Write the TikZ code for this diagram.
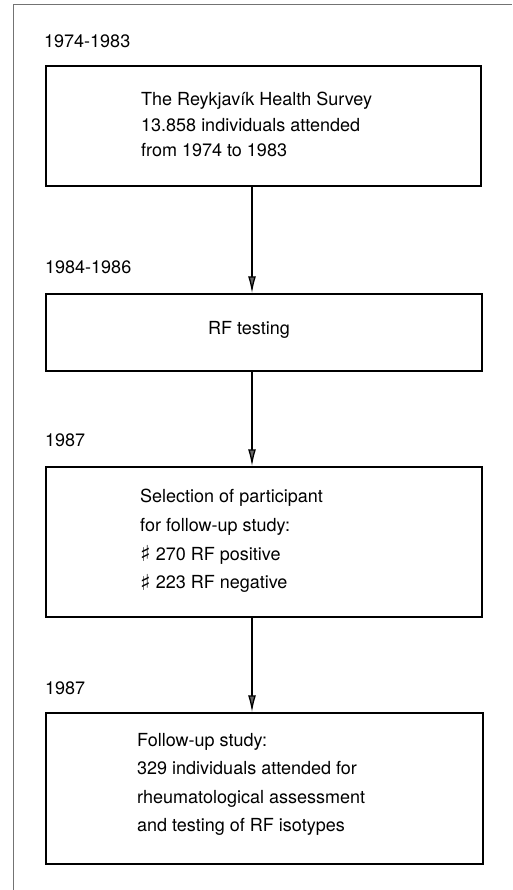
\documentclass[tikz,border=0pt]{standalone}
\usepackage{fontspec}
\setmainfont{TeX Gyre Heros}
\newfontfamily\symfont{DejaVu Sans}
\usetikzlibrary{arrows.meta}
\tikzset{
  frameline/.style={draw=black!55, line width=1pt},
  stagebox/.style={draw=black, line width=1.5pt, rectangle, inner sep=0pt},
  yearlabel/.style={anchor=west, inner sep=0pt, font=\fontsize{18}{22}\selectfont},
  boxtext/.style={anchor=west, inner sep=0pt, align=left},
  flowarrow/.style={draw=black, line width=1.3pt, -{Latex[length=17pt,width=8pt,fill=black!60]}}
}
\newcommand{\shp}{{\symfont\fontsize{22}{22}\selectfont\raisebox{-1.5pt}{♯}}}
\begin{document}
\begin{tikzpicture}[x=1pt,y=-1pt]
\useasboundingbox (0,0) rectangle (512,890);
% outer frame (top and left only)
\draw[frameline] (13,890) -- (13,5) -- (512,5);
\coordinate (ax) at (252,0);

% year labels
\node[yearlabel] (y1) at (44,41) {1974-1983};
\node[yearlabel] (y2) at (45,267) {1984-1986};
\node[yearlabel] (y3) at (45,440) {1987};
\node[yearlabel] (y4) at (45,688) {1987};

% boxes
\node[stagebox, minimum width=435pt, minimum height=120pt] (b1) at (263.5,126) {};
\node[stagebox, minimum width=436pt, minimum height=77pt] (b2) at (264,332.5) {};
\node[stagebox, minimum width=436pt, minimum height=150pt] (b3) at (264,542) {};
\node[stagebox, minimum width=437pt, minimum height=151pt] (b4) at (264.5,788.5) {};

% texts
\node[boxtext, font=\fontsize{18}{25.5}\selectfont] (t1) at (141,124.5)
  {The Reykjavík Health Survey\\13.858 individuals attended\\from 1974 to 1983};
\node[anchor=center, inner sep=0pt, font=\fontsize{18}{22}\selectfont] (t2) at (249,330) {RF testing};
\node[boxtext, font=\fontsize{18}{28.7}\selectfont] (t3) at (140,541)
  {Selection of participant\\for follow-up study:\\\shp\ 270 RF positive\\\shp\ 223 RF negative};
\node[boxtext, font=\fontsize{18}{28.3}\selectfont] (t4) at (137,784.5)
  {Follow-up study:\\329 individuals attended for\\rheumatological assessment\\and testing of RF isotypes};

% arrows
\draw[flowarrow] (b1.south -| ax) -- (b2.north -| ax);
\draw[flowarrow] (b2.south -| ax) -- (b3.north -| ax);
\draw[flowarrow] (b3.south -| ax) -- (b4.north -| ax);
\end{tikzpicture}
\end{document}
